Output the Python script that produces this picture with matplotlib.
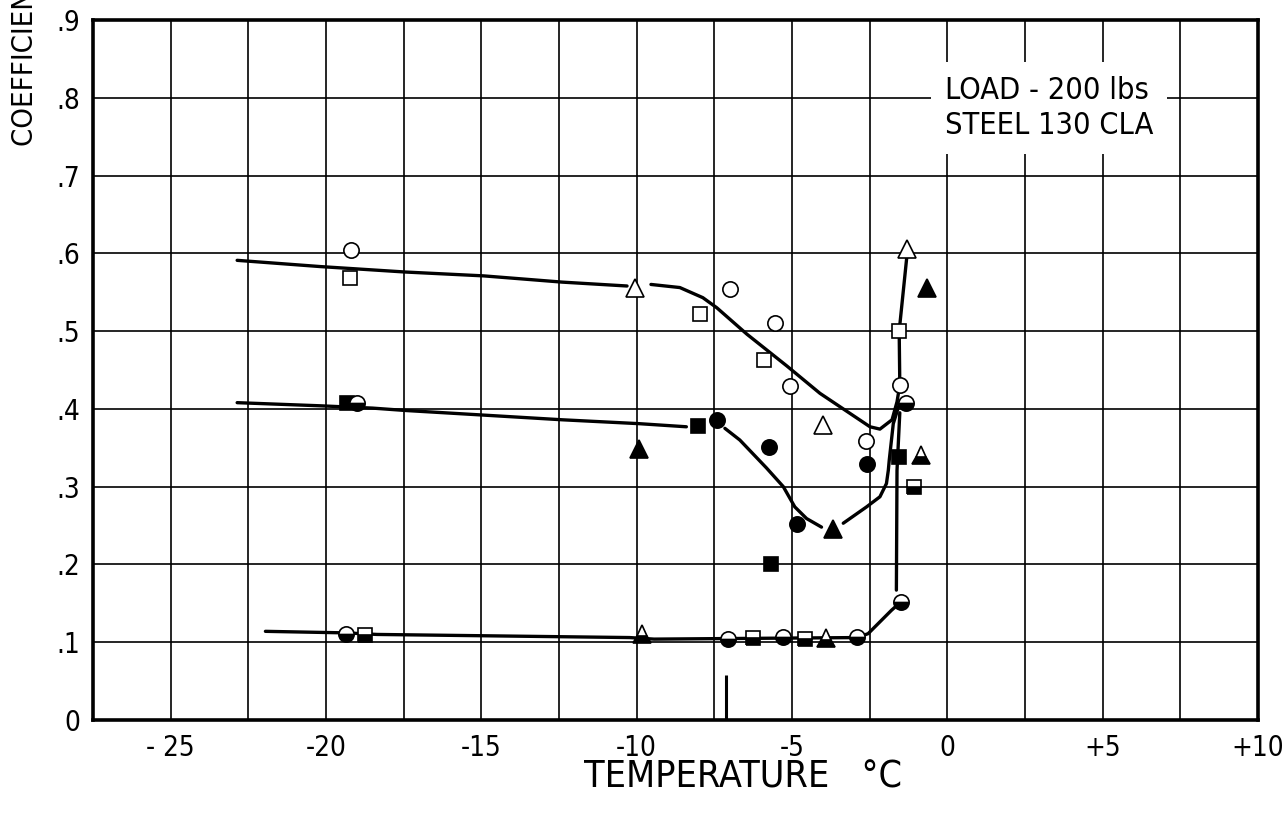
import numpy as np
import matplotlib.pyplot as plt

plt.rcParams['font.family'] = ['DejaVu Sans']
plt.rcParams['font.stretch'] = 'condensed'

# faired curves drawn through the test points (temperature in deg C, friction coefficient)
upper_a_t = [-22.86, -20.19, -17.46, -14.92, -12.40, -10.31]
upper_a_c = [0.591, 0.583, 0.576, 0.571, 0.563, 0.558]
upper_b_t = [-9.54, -8.61, -7.87, -7.42, -6.45, -5.16, -4.10, -2.49, -2.17, -1.78, -1.62, -1.53, -1.55, -1.28]
upper_b_c = [0.560, 0.556, 0.543, 0.530, 0.496, 0.455, 0.420, 0.377, 0.374, 0.386, 0.409, 0.431, 0.500, 0.605]

middle_a_t = [-22.86, -20.20, -18.50, -17.46, -14.92, -12.40, -9.92, -8.40]
middle_a_c = [0.408, 0.404, 0.401, 0.398, 0.392, 0.386, 0.381, 0.377]
middle_b_t = [-7.16, -6.68, -5.82, -5.28, -4.91, -4.53, -4.05]
middle_b_c = [0.375, 0.360, 0.324, 0.300, 0.274, 0.259, 0.248]
middle_c_t = [-3.35, -2.60, -2.17, -1.96, -1.90, -1.87, -1.74, -1.53]
middle_c_c = [0.253, 0.274, 0.287, 0.304, 0.321, 0.334, 0.381, 0.408]

lower_a_t = [-21.95, -19.35, -18.36, -10.23, -9.44, -2.90, -2.55, -1.80, -1.49]
lower_a_c = [0.114, 0.112, 0.110, 0.106, 0.104, 0.106, 0.111, 0.141, 0.152]
lower_b_t = [-1.64, -1.62, -1.53]
lower_b_c = [0.167, 0.321, 0.395]

# test points, grouped by symbol
open_circle_t = [-19.21, -6.99, -5.55, -5.07, -2.63, -1.53]
open_circle_c = [0.604, 0.554, 0.511, 0.430, 0.359, 0.431]
open_square_t = [-19.23, -7.96, -5.89, -1.56]
open_square_c = [0.568, 0.522, 0.463, 0.500]
open_tri_t = [-10.06, -4.01, -1.31]
open_tri_c = [0.556, 0.379, 0.606]

solid_circle_t = [-7.40, -5.73, -2.58, -4.85]
solid_circle_c = [0.386, 0.351, 0.329, 0.252]
solid_square_t = [-19.34, -8.04, -5.66, -1.56]
solid_square_c = [0.407, 0.378, 0.200, 0.338]
solid_tri_t = [-9.93, -0.64, -3.69]
solid_tri_c = [0.349, 0.555, 0.245]

half_circle_t = [-19.01, -1.33, -1.49, -19.35, -7.07, -5.30, -2.90]
half_circle_c = [0.407, 0.408, 0.152, 0.110, 0.104, 0.107, 0.107]
half_square_t = [-1.08, -18.75, -6.25, -4.58]
half_square_c = [0.299, 0.109, 0.105, 0.104]
half_tri_t = [-0.86, -9.83, -3.89]
half_tri_c = [0.341, 0.111, 0.105]

# short reference mark on the temperature axis
ref_mark_t = -7.13
ref_mark_h = 0.058

x_ticks = np.arange(-27.5, 10.01, 2.5)
x_labels = ['', '- 25', '', '-20', '', '-15', '', '-10', '', '-5', '', '0', '', '+5', '', '+10']
y_ticks = np.arange(0, 0.91, 0.1)
y_labels = ['0', '.1', '.2', '.3', '.4', '.5', '.6', '.7', '.8', '.9']

fig = plt.figure(figsize=(12.84, 8.15), dpi=100)
ax = fig.add_axes([93 / 1284, 95 / 815, 1165 / 1284, 700 / 815])

ax.set_xlim(-27.5, 10)
ax.set_ylim(0, 0.9)
ax.set_xticks(x_ticks)
ax.set_xticklabels(x_labels)
ax.set_yticks(y_ticks)
ax.set_yticklabels(y_labels)
ax.tick_params(axis='both', length=0, labelsize=20)
ax.tick_params(axis='x', pad=10)
ax.tick_params(axis='y', pad=9)
ax.grid(True, color='black', linewidth=1.2)
ax.set_axisbelow(True)
for s in ax.spines.values():
    s.set_linewidth(2.6)

line_kw = dict(color='black', linewidth=2.4, solid_capstyle='round', zorder=3)
for t, c in [(upper_a_t, upper_a_c), (upper_b_t, upper_b_c),
             (middle_a_t, middle_a_c), (middle_b_t, middle_b_c), (middle_c_t, middle_c_c),
             (lower_a_t, lower_a_c), (lower_b_t, lower_b_c)]:
    ax.plot(t, c, **line_kw)

ax.vlines(ref_mark_t, 0, ref_mark_h, color='black', linewidth=2.2, zorder=3)

mk = dict(linestyle='none', markeredgecolor='black', markeredgewidth=1.2, zorder=4)
ax.plot(open_circle_t, open_circle_c, 'o', markersize=11, markerfacecolor='white', **mk)
ax.plot(open_square_t, open_square_c, 's', markersize=10, markerfacecolor='white', **mk)
ax.plot(open_tri_t, open_tri_c, '^', markersize=13, markerfacecolor='white', **mk)
ax.plot(solid_circle_t, solid_circle_c, 'o', markersize=11, markerfacecolor='black', **mk)
ax.plot(solid_square_t, solid_square_c, 's', markersize=10, markerfacecolor='black', **mk)
ax.plot(solid_tri_t, solid_tri_c, '^', markersize=13, markerfacecolor='black', **mk)
ax.plot(half_circle_t, half_circle_c, 'o', markersize=11, fillstyle='bottom',
        markerfacecolor='black', markerfacecoloralt='white', **mk)
ax.plot(half_square_t, half_square_c, 's', markersize=10, fillstyle='bottom',
        markerfacecolor='black', markerfacecoloralt='white', **mk)
ax.plot(half_tri_t, half_tri_c, '^', markersize=13, fillstyle='bottom',
        markerfacecolor='black', markerfacecoloralt='white', **mk)

ax.text(-0.08, 0.787, 'LOAD - 200 lbs\nSTEEL 130 CLA', fontsize=22, ha='left', va='center',
        linespacing=1.25, zorder=5,
        bbox=dict(boxstyle='square,pad=0.45', facecolor='white', edgecolor='none'))

fig.text(743 / 1284, 37 / 815, 'TEMPERATURE   °C', fontsize=27, ha='center', va='center')
fig.text(25 / 1284, (815 - 146) / 815, 'COEFFICIENT OF FRICTION', fontsize=21,
         rotation=90, ha='center', va='bottom')

fig.savefig('out.png', dpi=100)
